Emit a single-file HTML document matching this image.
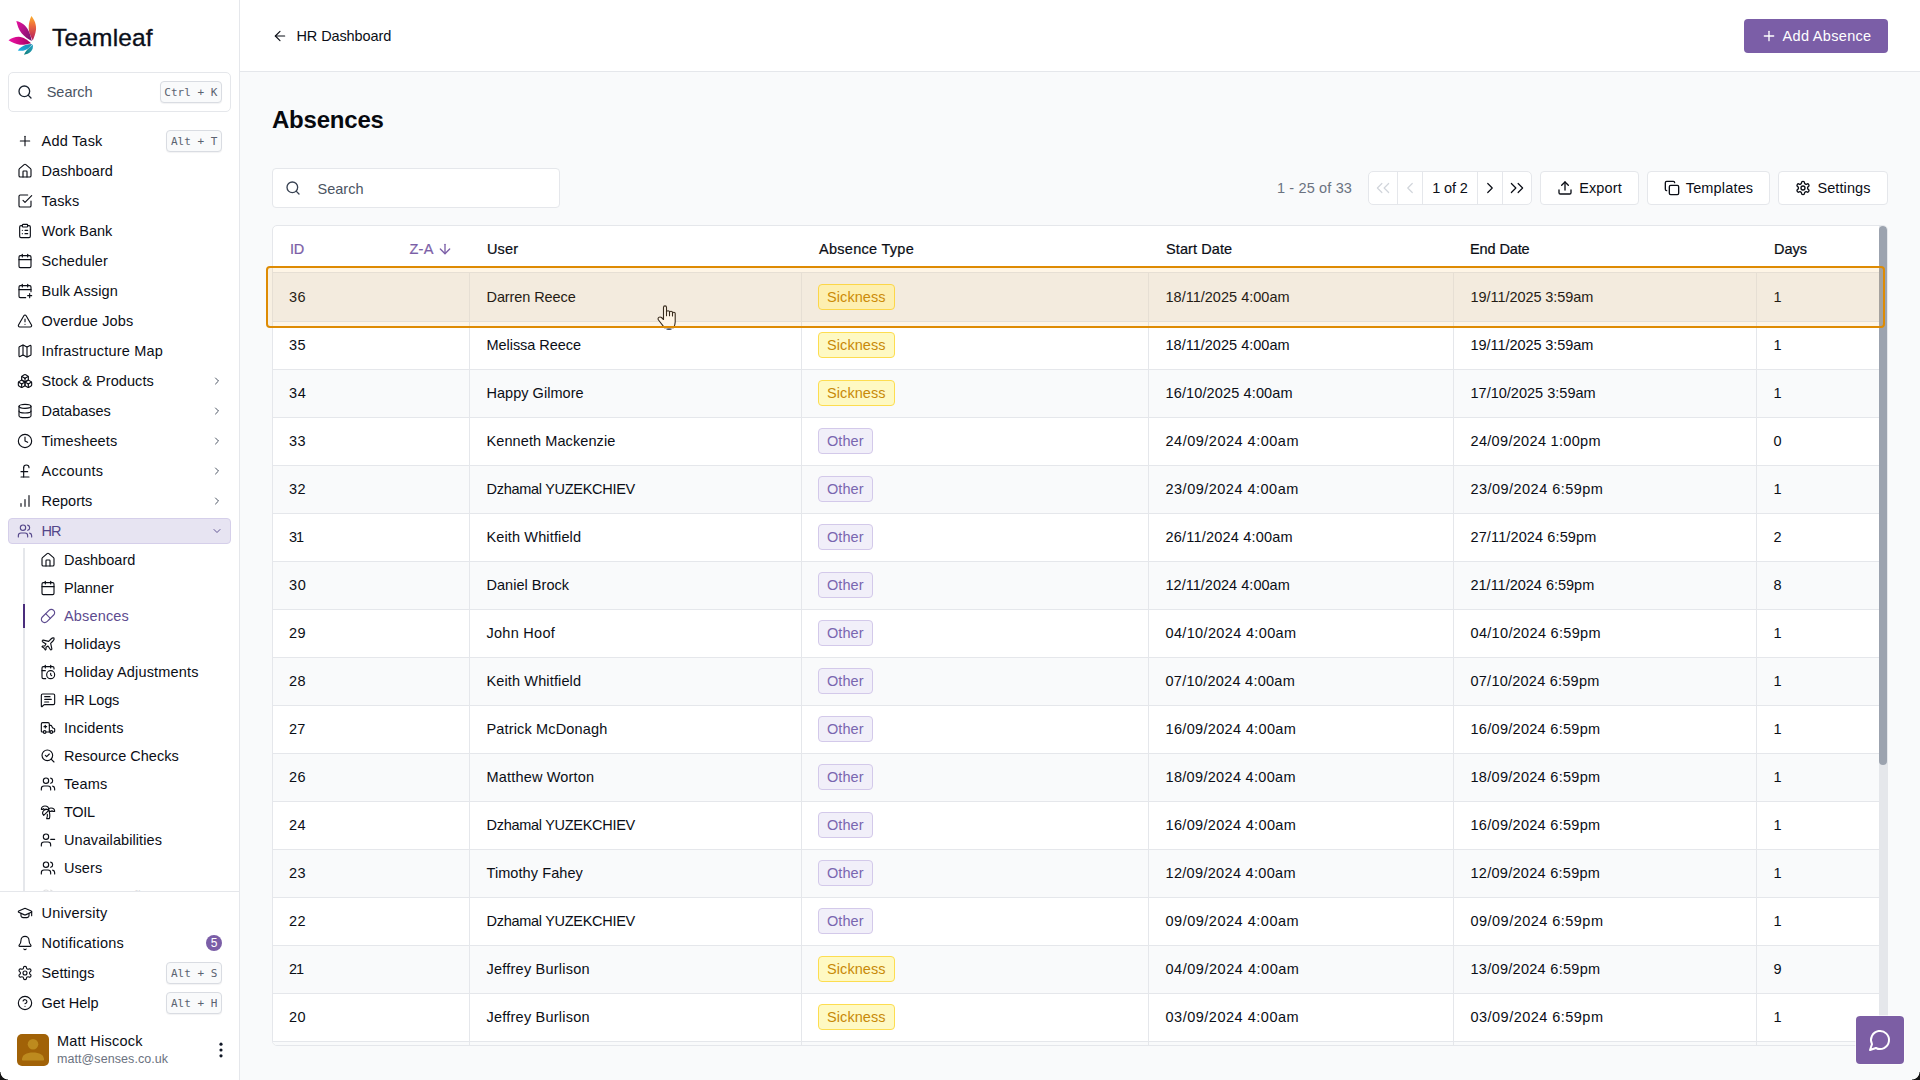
<!DOCTYPE html>
<html lang="en">
<head>
<meta charset="utf-8">
<title>Absences - Teamleaf</title>
<style>
*{box-sizing:border-box;margin:0;padding:0}
html,body{width:1920px;height:1080px;overflow:hidden;background:#f9fafb}
body{font-family:"Liberation Sans",sans-serif;font-size:14.5px;color:#0b0e16;position:relative}
a{color:inherit;text-decoration:none;cursor:pointer}
button{font:inherit;border:0;background:none;cursor:pointer}
.ic{flex:none;display:block}
kbd{font-family:"DejaVu Sans Mono","Liberation Mono",monospace;font-size:11px;color:#5b6370;background:#f9fafb;border:1px solid #d9dce2;border-radius:4px;height:22px;line-height:20px;padding:1.300px 3.700px 0;margin-left:auto;letter-spacing:0;box-shadow:0 1px 1px rgba(17,24,39,.05)}

/* sidebar */
.sidebar{position:absolute;left:0;top:0;width:240px;height:1080px;background:#fff;border-right:1px solid #e5e7eb}
.brand{position:absolute;left:0;top:0;width:239px;height:71px}
.logo{position:absolute;left:0;top:0}
.brand-name{position:absolute;left:52px;top:22px;font-size:24.5px;line-height:32px;color:#0b0f1a;-webkit-text-stroke:.35px #0b0f1a}
.side-search{position:absolute;left:8px;top:72px;width:223px;height:40px;border:1px solid #e5e7eb;border-radius:5px;background:#fff;display:flex;align-items:center;padding:0 8px 0 7.700px;color:#1b2330}
.side-search .ph{margin-left:14px;color:#4b5563}
.nav{position:absolute;left:8px;top:128px;width:223px}
.item{display:flex;align-items:center;height:26px;margin-bottom:4px;padding:0 8px 0 8px;border:1px solid transparent;border-radius:4px;color:#0b0e16}
.item .lbl{margin-left:8.500px}
.item .chev{margin-left:auto;color:#374151;margin-right:-.5px}
.item.open{background:#e7e4f2;border-color:#d5cfea;color:#54468a;margin-bottom:2px}
.item.open .chev{color:#54468a}
.sub{position:relative;padding-left:32px;height:346px;overflow:hidden}
.sub:before{content:"";position:absolute;left:15px;top:2px;width:2px;height:400px;background:#e5e7eb}
.subitem{display:flex;align-items:center;height:28px;color:#0b0e16;position:relative}
.subitem .lbl{margin-left:8px}
.subitem.active{color:#5d4b8f}
.subitem.active:before{content:"";position:absolute;left:-17px;top:2px;width:2px;height:24px;background:#4a2d7c}
.subitem.faded{opacity:.12}
.side-bottom{position:absolute;left:0;top:891px;width:239px;height:189px;border-top:1px solid #e5e7eb;background:#fff;padding:8px 8px 0 8px}
.side-bottom .item{margin-bottom:4px}
.badge{margin-left:auto;width:16px;height:16px;border-radius:50%;background:#7b5ea7;color:#fff;font-size:12px;line-height:16px;text-align:center}
.user{position:absolute;left:0;top:142px;width:239px;height:34px}
.avatar{position:absolute;left:17px;top:0;width:32px;height:32px;border-radius:5px;background:#a16207;overflow:hidden}
.who{position:absolute;left:57px;top:0}
.nm{position:absolute;left:0;top:-1px;white-space:nowrap;font-size:14.5px;line-height:16px;color:#0b0e16}
.em{position:absolute;left:0;top:16.5px;white-space:nowrap;font-size:12.5px;line-height:16px;color:#6b7280}
.kebab{position:absolute;left:211px;top:6px}

/* main */
.main{position:absolute;left:240px;top:0;width:1680px;height:1080px}
.topbar{position:absolute;left:0;top:0;width:1680px;height:72px;background:#fff;border-bottom:1px solid #e5e7eb}
.back{position:absolute;left:32px;top:26px;height:20px;display:flex;align-items:center;color:#0b0e16}
.back span{margin-left:8.500px}
.btn-primary{position:absolute;left:1504px;top:19px;width:144px;height:34px;border-radius:4px;background:#7b5ea7;color:#fff;display:flex;align-items:center;justify-content:center}
.btn-primary span{margin-left:6px}
.title{position:absolute;left:32px;top:104px;font-size:24px;line-height:32px;font-weight:700;color:#07090f;}
.toolbar{position:absolute;left:0;top:168px;width:1680px;height:40px}
.tsearch{position:absolute;left:32px;top:0;width:288px;height:40px;background:#fff;border:1px solid #e5e7eb;border-radius:4px;display:flex;align-items:center;padding-left:12px;color:#374151}
.tsearch .ph{margin-left:16.500px;color:#4b5563;position:relative;top:1px}
.count{position:absolute;left:1037px;top:11px;line-height:18px;color:#6b7280}
.pager{position:absolute;left:1128px;top:3px;width:164px;height:34px;border:1px solid #e5e7eb;border-radius:5px;background:#fff;display:flex;overflow:hidden}
.pg{display:flex;align-items:center;justify-content:center;border-right:1px solid #e5e7eb;height:100%;color:#0b0e16}
.pg:last-child{border-right:0}
.pg.dis{color:#d1d5db}
.p1{width:29px}.p2{width:25px}.p3{width:55px}.p4{width:25px}.p5{flex:1}
.btn{position:absolute;top:3px;height:34px;border:1px solid #e5e7eb;border-radius:4px;background:#fff;display:flex;align-items:center;justify-content:center;color:#0b0e16}
.btn span{margin-left:6px}
.b-export{left:1300px;width:99px}
.b-templates{left:1407px;width:123px}
.b-settings{left:1538px;width:110px}

.tablewrap{position:absolute;left:32px;top:225px;width:1616px;height:821px;background:#fff;border:1px solid #e5e7eb;border-radius:5px;overflow:hidden}
.thead{position:absolute;left:0;top:0;width:1606px;height:47px;border-bottom:1px solid #e5e7eb;font-weight:400}
.th{position:absolute;top:14px;line-height:18px;color:#0b0e16;-webkit-text-stroke:.22px #0b0e16}
.th.sort{color:#7b5ea7;-webkit-text-stroke:.22px #7b5ea7}
.za{position:absolute;left:136.500px;top:14px;line-height:18px;color:#7b5ea7;display:flex;align-items:center;-webkit-text-stroke:.22px #7b5ea7}
.za .ic{margin-left:3.500px}
.c1{left:16px}
.th.c1{left:17px}.c2{left:214px}.c3{left:546px}.c4{left:893px}.c5{left:1197px}.c6{left:1501px}
.tbody{position:absolute;left:0;top:48px;width:1606px}
.tr{position:relative;height:48px;border-bottom:1px solid #e5e7eb;background:#fff}
.tr.alt{background:#f9fafb}
.tr.hover{background:#f3f4f6;height:49px;margin-top:-1px}
.tr.hover .td{height:48px;line-height:48px}
.td{position:absolute;top:0;height:47px;line-height:47px;white-space:nowrap}
.td.c2,.td.c3,.td.c4,.td.c5,.td.c6{border-left:1px solid #e5e7eb;padding-left:16.500px}
.td.c3{padding-left:16px}
.td.c2{left:196px;width:332px}
.td.c3{left:528px;width:347px}
.td.c4{left:875px;width:305px}
.td.c5{left:1180px;width:303px}
.td.c6{left:1483px;width:123px}
.tag{display:inline-block;height:26px;line-height:24px;padding:0 8px;border-radius:4px;border:1px solid;vertical-align:middle;position:relative;top:-1px}
.tag.sick{background:#fef9c3;border-color:#fddd50;color:#c88908}
.tag.other{background:#f1eff9;border-color:#d3c9ea;color:#7a66b0}
.sbar{position:absolute;left:1606px;top:0;width:8px;height:819px;background:#e5e7eb}
.thumb{position:absolute;left:0;top:0;width:8px;height:539px;border-radius:4px;background:#9ca3af}
.focusring{position:absolute;left:26px;top:266px;width:1619px;height:62px;border:2px solid #de8b03;border-radius:4px;background:rgba(245,158,11,.1)}
.cursor{position:absolute;left:415px;top:303px}
.chatfab{position:absolute;left:1616px;top:1016px;width:48px;height:48px;border-radius:4px;background:#7c5ea4;box-shadow:0 0 0 1px rgba(255,255,255,.6);color:#fff;display:flex;align-items:center;justify-content:center}
.corner{position:absolute;bottom:0;width:8px;height:8px}
.corner.cl{left:0;background:radial-gradient(circle at 8px 0,rgba(255,255,255,0) 6.300px,rgba(255,255,255,.9) 7px,#141414 7.900px)}
.corner.cr{right:0;background:radial-gradient(circle at 0 0,rgba(255,255,255,0) 6.300px,rgba(255,255,255,.9) 7px,#141414 7.900px)}

</style>
</head>
<body>
<aside class="sidebar">
<div class="brand"><svg class="logo" width="48" height="56" viewBox="0 0 48 56"><defs><linearGradient id="lgO" x1="0" y1="0" x2="0" y2="1"><stop offset="0" stop-color="#fbb02d"/><stop offset=".35" stop-color="#f0713a"/><stop offset="1" stop-color="#b3175f"/></linearGradient><linearGradient id="lgM1" x1="0" y1="0" x2="1" y2="1"><stop offset="0" stop-color="#e8109f"/><stop offset="1" stop-color="#6f1468"/></linearGradient><linearGradient id="lgM2" x1="0" y1="0" x2="1" y2="0"><stop offset="0" stop-color="#f012a6"/><stop offset="1" stop-color="#a4005f"/></linearGradient><linearGradient id="lgT1" x1="0" y1="1" x2="1" y2="0"><stop offset="0" stop-color="#1fb3e6"/><stop offset="1" stop-color="#1b86ad"/></linearGradient><linearGradient id="lgT2" x1="0" y1="1" x2="1" y2="0"><stop offset="0" stop-color="#0f7d78"/><stop offset="1" stop-color="#2aa6c9"/></linearGradient></defs><path d="M31.400 16c3.200 4 5.200 9 4.600 13.800-.5 4-2 7.600-3.200 10.800-1.600-3.400-3.900-7.300-4.100-11.800-.2-4.800 1-9.200 2.700-12.800z" fill="url(#lgO)"/><path d="M16.300 21c5.400 1.200 9.700 4.600 12 9.200 1.700 3.400 2.800 7.200 3.500 10.900-3.600-2-7.500-4.400-10.200-7.800-3.100-3.900-4.200-8.300-5.300-12.300z" fill="url(#lgM1)"/><path d="M8.500 40.300c3-2.400 6.800-3.700 10.300-3.600 4.800.2 8.800 3.300 12.300 6.500-3.500 1-7.400 1.800-11.200 1.500-4.300-.4-8-2.300-11.400-4.400z" fill="url(#lgM2)"/><path d="M17.800 50.600c2-3 5-5 8.200-5.900 2.100-.6 4.200-.8 6.200-.8-1.700 2.500-3.900 4.900-6.800 6.100-2.400 1-5.100 1-7.600.6z" fill="url(#lgT1)"/><path d="M23.900 54.800c1.500-3.500 4.300-6.800 8.900-10.400.5 2.800-.1 5.200-1.900 7.100-1.800 1.900-4.300 2.800-7 3.300z" fill="url(#lgT2)"/></svg><span class="brand-name" style="letter-spacing:0.18px">Teamleaf</span></div>
<div class="side-search"><svg class="ic " width="16" height="16" viewBox="0 0 24 24" fill="none" stroke="currentColor" stroke-width="2" stroke-linecap="round" stroke-linejoin="round" style=""><circle cx="11" cy="11" r="8"/><path d="m21 21-4.3-4.3"/></svg><span class="ph" style="letter-spacing:0.01px">Search</span><kbd>Ctrl + K</kbd></div>
<nav class="nav">
<a class="item"><svg class="ic " width="16" height="16" viewBox="0 0 24 24" fill="none" stroke="currentColor" stroke-width="1.7" stroke-linecap="round" stroke-linejoin="round" style=""><path d="M5 12h14"/><path d="M12 5v14"/></svg><span class="lbl" style="letter-spacing:0.21px">Add Task</span><kbd>Alt + T</kbd></a>
<a class="item"><svg class="ic " width="16" height="16" viewBox="0 0 24 24" fill="none" stroke="currentColor" stroke-width="1.7" stroke-linecap="round" stroke-linejoin="round" style=""><path d="M15 21v-8a1 1 0 0 0-1-1h-4a1 1 0 0 0-1 1v8"/><path d="M3 10a2 2 0 0 1 .709-1.528l7-5.999a2 2 0 0 1 2.582 0l7 5.999A2 2 0 0 1 21 10v9a2 2 0 0 1-2 2H5a2 2 0 0 1-2-2z"/></svg><span class="lbl" style="letter-spacing:0.06px">Dashboard</span></a>
<a class="item"><svg class="ic " width="16" height="16" viewBox="0 0 24 24" fill="none" stroke="currentColor" stroke-width="1.7" stroke-linecap="round" stroke-linejoin="round" style=""><path d="m9 11 3 3L22 4"/><path d="M21 12v7a2 2 0 0 1-2 2H5a2 2 0 0 1-2-2V5a2 2 0 0 1 2-2h11"/></svg><span class="lbl" style="letter-spacing:0.17px">Tasks</span></a>
<a class="item"><svg class="ic " width="16" height="16" viewBox="0 0 24 24" fill="none" stroke="currentColor" stroke-width="1.7" stroke-linecap="round" stroke-linejoin="round" style=""><rect width="8" height="4" x="8" y="2" rx="1" ry="1"/><path d="M16 4h2a2 2 0 0 1 2 2v14a2 2 0 0 1-2 2H6a2 2 0 0 1-2-2V6a2 2 0 0 1 2-2h2"/><path d="M12 11h4"/><path d="M12 16h4"/><path d="M8 11h.01"/><path d="M8 16h.01"/></svg><span class="lbl" style="letter-spacing:0.02px">Work Bank</span></a>
<a class="item"><svg class="ic " width="16" height="16" viewBox="0 0 24 24" fill="none" stroke="currentColor" stroke-width="1.7" stroke-linecap="round" stroke-linejoin="round" style=""><path d="M8 2v4"/><path d="M16 2v4"/><rect width="18" height="18" x="3" y="4" rx="2"/><path d="M3 10h18"/></svg><span class="lbl" style="letter-spacing:0.12px">Scheduler</span></a>
<a class="item"><svg class="ic " width="16" height="16" viewBox="0 0 24 24" fill="none" stroke="currentColor" stroke-width="1.7" stroke-linecap="round" stroke-linejoin="round" style=""><path d="M8 2v4"/><path d="M16 2v4"/><path d="M21 13V6a2 2 0 0 0-2-2H5a2 2 0 0 0-2 2v14a2 2 0 0 0 2 2h8"/><path d="M3 10h18"/><path d="M16 19h6"/><path d="M19 16v6"/></svg><span class="lbl" style="letter-spacing:0.13px">Bulk Assign</span></a>
<a class="item"><svg class="ic " width="16" height="16" viewBox="0 0 24 24" fill="none" stroke="currentColor" stroke-width="1.7" stroke-linecap="round" stroke-linejoin="round" style=""><path d="m21.73 18-8-14a2 2 0 0 0-3.48 0l-8 14A2 2 0 0 0 4 21h16a2 2 0 0 0 1.73-3"/><path d="M12 9v4"/><path d="M12 17h.01"/></svg><span class="lbl" style="letter-spacing:0.13px">Overdue Jobs</span></a>
<a class="item"><svg class="ic " width="16" height="16" viewBox="0 0 24 24" fill="none" stroke="currentColor" stroke-width="1.7" stroke-linecap="round" stroke-linejoin="round" style=""><path d="M14.106 5.553a2 2 0 0 0 1.788 0l3.659-1.83A1 1 0 0 1 21 4.619v12.764a1 1 0 0 1-.553.894l-4.553 2.277a2 2 0 0 1-1.788 0l-4.212-2.106a2 2 0 0 0-1.788 0l-3.659 1.83A1 1 0 0 1 3 19.381V6.618a1 1 0 0 1 .553-.894l4.553-2.277a2 2 0 0 1 1.788 0z"/><path d="M15 5.764v15"/><path d="M9 3.236v15"/></svg><span class="lbl" style="letter-spacing:0.22px">Infrastructure Map</span></a>
<a class="item"><svg class="ic " width="16" height="16" viewBox="0 0 24 24" fill="none" stroke="currentColor" stroke-width="1.7" stroke-linecap="round" stroke-linejoin="round" style=""><path d="M2.97 12.92A2 2 0 0 0 2 14.63v3.24a2 2 0 0 0 .97 1.71l3 1.8a2 2 0 0 0 2.06 0L12 19v-5.5l-5-3-4.03 2.42Z"/><path d="m7 16.5-4.74-2.85"/><path d="m7 16.5 5-3"/><path d="M7 16.5v5.17"/><path d="M12 13.5V19l3.97 2.38a2 2 0 0 0 2.06 0l3-1.8a2 2 0 0 0 .97-1.71v-3.24a2 2 0 0 0-.97-1.71L17 10.5l-5 3Z"/><path d="m17 16.5-5-3"/><path d="m17 16.5 4.74-2.85"/><path d="M17 16.5v5.17"/><path d="M7.97 4.42A2 2 0 0 0 7 6.13v4.37l5 3 5-3V6.13a2 2 0 0 0-.97-1.71l-3-1.8a2 2 0 0 0-2.06 0l-3 1.8Z"/><path d="M12 8 7.26 5.15"/><path d="m12 8 4.74-2.85"/><path d="M12 13.5V8"/></svg><span class="lbl" style="letter-spacing:0.07px">Stock &amp; Products</span><svg class="ic chev" width="12" height="12" viewBox="0 0 24 24" fill="none" stroke="currentColor" stroke-width="1.8" stroke-linecap="round" stroke-linejoin="round" style=""><path d="m9 18 6-6-6-6"/></svg></a>
<a class="item"><svg class="ic " width="16" height="16" viewBox="0 0 24 24" fill="none" stroke="currentColor" stroke-width="1.7" stroke-linecap="round" stroke-linejoin="round" style=""><ellipse cx="12" cy="5" rx="9" ry="3"/><path d="M3 5V19A9 3 0 0 0 21 19V5"/><path d="M3 12A9 3 0 0 0 21 12"/></svg><span class="lbl" style="letter-spacing:-0.00px">Databases</span><svg class="ic chev" width="12" height="12" viewBox="0 0 24 24" fill="none" stroke="currentColor" stroke-width="1.8" stroke-linecap="round" stroke-linejoin="round" style=""><path d="m9 18 6-6-6-6"/></svg></a>
<a class="item"><svg class="ic " width="16" height="16" viewBox="0 0 24 24" fill="none" stroke="currentColor" stroke-width="1.7" stroke-linecap="round" stroke-linejoin="round" style=""><circle cx="12" cy="12" r="10"/><polyline points="12 6 12 12 16 14"/></svg><span class="lbl" style="letter-spacing:0.15px">Timesheets</span><svg class="ic chev" width="12" height="12" viewBox="0 0 24 24" fill="none" stroke="currentColor" stroke-width="1.8" stroke-linecap="round" stroke-linejoin="round" style=""><path d="m9 18 6-6-6-6"/></svg></a>
<a class="item"><svg class="ic " width="16" height="16" viewBox="0 0 24 24" fill="none" stroke="currentColor" stroke-width="1.7" stroke-linecap="round" stroke-linejoin="round" style=""><path d="M18 7c0-5.333-8-5.333-8 0"/><path d="M10 7v14"/><path d="M6 21h12"/><path d="M6 13h10"/></svg><span class="lbl" style="letter-spacing:0.27px">Accounts</span><svg class="ic chev" width="12" height="12" viewBox="0 0 24 24" fill="none" stroke="currentColor" stroke-width="1.8" stroke-linecap="round" stroke-linejoin="round" style=""><path d="m9 18 6-6-6-6"/></svg></a>
<a class="item"><svg class="ic " width="16" height="16" viewBox="0 0 24 24" fill="none" stroke="currentColor" stroke-width="1.7" stroke-linecap="round" stroke-linejoin="round" style=""><path d="M12 20V10"/><path d="M18 20V4"/><path d="M6 20v-4"/></svg><span class="lbl" style="letter-spacing:-0.00px">Reports</span><svg class="ic chev" width="12" height="12" viewBox="0 0 24 24" fill="none" stroke="currentColor" stroke-width="1.8" stroke-linecap="round" stroke-linejoin="round" style=""><path d="m9 18 6-6-6-6"/></svg></a>
<a class="item open"><svg class="ic " width="16" height="16" viewBox="0 0 24 24" fill="none" stroke="currentColor" stroke-width="1.7" stroke-linecap="round" stroke-linejoin="round" style=""><path d="M16 21v-2a4 4 0 0 0-4-4H6a4 4 0 0 0-4 4v2"/><circle cx="9" cy="7" r="4"/><path d="M22 21v-2a4 4 0 0 0-3-3.87"/><path d="M16 3.13a4 4 0 0 1 0 7.75"/></svg><span class="lbl" style="letter-spacing:-0.86px">HR</span><svg class="ic chev" width="12" height="12" viewBox="0 0 24 24" fill="none" stroke="currentColor" stroke-width="1.8" stroke-linecap="round" stroke-linejoin="round" style=""><path d="m6 9 6 6 6-6"/></svg></a>
<div class="sub">
<a class="subitem"><svg class="ic " width="16" height="16" viewBox="0 0 24 24" fill="none" stroke="currentColor" stroke-width="1.7" stroke-linecap="round" stroke-linejoin="round" style=""><path d="M15 21v-8a1 1 0 0 0-1-1h-4a1 1 0 0 0-1 1v8"/><path d="M3 10a2 2 0 0 1 .709-1.528l7-5.999a2 2 0 0 1 2.582 0l7 5.999A2 2 0 0 1 21 10v9a2 2 0 0 1-2 2H5a2 2 0 0 1-2-2z"/></svg><span class="lbl" style="letter-spacing:0.06px">Dashboard</span></a>
<a class="subitem"><svg class="ic " width="16" height="16" viewBox="0 0 24 24" fill="none" stroke="currentColor" stroke-width="1.7" stroke-linecap="round" stroke-linejoin="round" style=""><path d="M8 2v4"/><path d="M16 2v4"/><rect width="18" height="18" x="3" y="4" rx="2"/><path d="M3 10h18"/></svg><span class="lbl" style="letter-spacing:-0.04px">Planner</span></a>
<a class="subitem active"><svg class="ic " width="16" height="16" viewBox="0 0 24 24" fill="none" stroke="currentColor" stroke-width="1.7" stroke-linecap="round" stroke-linejoin="round" style=""><path d="m10.5 20.5 10-10a4.95 4.95 0 1 0-7-7l-10 10a4.95 4.95 0 1 0 7 7Z"/><path d="m8.5 8.5 7 7"/></svg><span class="lbl" style="letter-spacing:0.16px">Absences</span></a>
<a class="subitem"><svg class="ic " width="16" height="16" viewBox="0 0 24 24" fill="none" stroke="currentColor" stroke-width="1.7" stroke-linecap="round" stroke-linejoin="round" style=""><path d="M17.8 19.2 16 11l3.5-3.5C21 6 21.5 4 21 3c-1-.5-3 0-4.5 1.5L13 8 4.8 6.2c-.5-.1-.9.1-1.1.5l-.3.5c-.2.5-.1 1 .3 1.3L9 12l-2 3H4l-1 1 3 2 2 3 1-1v-3l3-2 3.5 5.300c.3.400.8.500 1.300.300l.5-.2c.4-.3.6-.7.5-1.200z"/></svg><span class="lbl" style="letter-spacing:0.11px">Holidays</span></a>
<a class="subitem"><svg class="ic " width="16" height="16" viewBox="0 0 24 24" fill="none" stroke="currentColor" stroke-width="1.7" stroke-linecap="round" stroke-linejoin="round" style=""><path d="M21 7.5V6a2 2 0 0 0-2-2H5a2 2 0 0 0-2 2v14a2 2 0 0 0 2 2h3.500"/><path d="M16 2v4"/><path d="M8 2v4"/><path d="M3 10h5"/><path d="M17.500 17.500 16 16.300V14"/><circle cx="16" cy="16" r="6"/></svg><span class="lbl" style="letter-spacing:0.17px">Holiday Adjustments</span></a>
<a class="subitem"><svg class="ic " width="16" height="16" viewBox="0 0 24 24" fill="none" stroke="currentColor" stroke-width="1.7" stroke-linecap="round" stroke-linejoin="round" style=""><path d="M22 17a2 2 0 0 1-2 2H6.828a2 2 0 0 0-1.414.586l-2.202 2.202A.71.71 0 0 1 2 21.286V5a2 2 0 0 1 2-2h16a2 2 0 0 1 2 2z"/><path d="M7 11h10"/><path d="M7 15h6"/><path d="M7 7h8"/></svg><span class="lbl" style="letter-spacing:-0.19px">HR Logs</span></a>
<a class="subitem"><svg class="ic " width="16" height="16" viewBox="0 0 24 24" fill="none" stroke="currentColor" stroke-width="1.7" stroke-linecap="round" stroke-linejoin="round" style=""><path d="M10 10H6"/><path d="M14 18V6a2 2 0 0 0-2-2H4a2 2 0 0 0-2 2v11a1 1 0 0 0 1 1h2"/><path d="M19 18h2a1 1 0 0 0 1-1v-3.280a1 1 0 0 0-.684-.948l-1.923-.641a1 1 0 0 1-.578-.502l-1.539-3.076A1 1 0 0 0 16.382 8H14"/><path d="M8 8v4"/><path d="M9 18h6"/><circle cx="17" cy="18" r="2"/><circle cx="7" cy="18" r="2"/></svg><span class="lbl" style="letter-spacing:0.18px">Incidents</span></a>
<a class="subitem"><svg class="ic " width="16" height="16" viewBox="0 0 24 24" fill="none" stroke="currentColor" stroke-width="1.7" stroke-linecap="round" stroke-linejoin="round" style=""><path d="m8 11 2 2 4-4"/><circle cx="11" cy="11" r="8"/><path d="m21 21-4.300-4.300"/></svg><span class="lbl" style="letter-spacing:0.02px">Resource Checks</span></a>
<a class="subitem"><svg class="ic " width="16" height="16" viewBox="0 0 24 24" fill="none" stroke="currentColor" stroke-width="1.7" stroke-linecap="round" stroke-linejoin="round" style=""><path d="M16 21v-2a4 4 0 0 0-4-4H6a4 4 0 0 0-4 4v2"/><circle cx="9" cy="7" r="4"/><path d="M22 21v-2a4 4 0 0 0-3-3.87"/><path d="M16 3.13a4 4 0 0 1 0 7.75"/></svg><span class="lbl" style="letter-spacing:0.12px">Teams</span></a>
<a class="subitem"><svg class="ic " width="16" height="16" viewBox="0 0 24 24" fill="none" stroke="currentColor" stroke-width="1.7" stroke-linecap="round" stroke-linejoin="round" style=""><path d="M13 8c0-2.760-2.460-5-5.500-5S2 5.240 2 8h2l1-1 1 1h4"/><path d="M13 7.140A5.820 5.820 0 0 1 16.500 6c3.040 0 5.500 2.240 5.500 5h-3l-1-1-1 1h-3"/><path d="M5.890 9.710c-2.150 2.150-2.300 5.470-.35 7.430l4.240-4.250.7-.7.710-.71 2.120-2.120c-1.950-1.960-5.270-1.800-7.420.35"/><path d="M11 15.500c.5 2.500-.17 4.500-1 6.500h4c2-5.500-.5-12-1-14"/></svg><span class="lbl" style="letter-spacing:-0.32px">TOIL</span></a>
<a class="subitem"><svg class="ic " width="16" height="16" viewBox="0 0 24 24" fill="none" stroke="currentColor" stroke-width="1.7" stroke-linecap="round" stroke-linejoin="round" style=""><path d="M16 21v-2a4 4 0 0 0-4-4H6a4 4 0 0 0-4 4v2"/><circle cx="9" cy="7" r="4"/><line x1="22" x2="16" y1="11" y2="11"/></svg><span class="lbl" style="letter-spacing:0.08px">Unavailabilities</span></a>
<a class="subitem"><svg class="ic " width="16" height="16" viewBox="0 0 24 24" fill="none" stroke="currentColor" stroke-width="1.7" stroke-linecap="round" stroke-linejoin="round" style=""><path d="M16 21v-2a4 4 0 0 0-4-4H6a4 4 0 0 0-4 4v2"/><circle cx="9" cy="7" r="4"/><path d="M22 21v-2a4 4 0 0 0-3-3.87"/><path d="M16 3.13a4 4 0 0 1 0 7.75"/></svg><span class="lbl" style="letter-spacing:0.07px">Users</span></a>
<a class="subitem faded"><svg class="ic " width="16" height="16" viewBox="0 0 24 24" fill="none" stroke="currentColor" stroke-width="1.7" stroke-linecap="round" stroke-linejoin="round" style=""><path d="M16 21v-2a4 4 0 0 0-4-4H6a4 4 0 0 0-4 4v2"/><circle cx="9" cy="7" r="4"/><path d="M22 21v-2a4 4 0 0 0-3-3.87"/><path d="M16 3.13a4 4 0 0 1 0 7.75"/></svg><span class="lbl" style="letter-spacing:0.11px">User Benefits</span></a>
</div>
</nav>
<div class="side-bottom">
<a class="item"><svg class="ic " width="16" height="16" viewBox="0 0 24 24" fill="none" stroke="currentColor" stroke-width="1.7" stroke-linecap="round" stroke-linejoin="round" style=""><path d="M21.420 10.922a1 1 0 0 0-.019-1.838L12.830 5.180a2 2 0 0 0-1.660 0L2.600 9.080a1 1 0 0 0 0 1.832l8.570 3.908a2 2 0 0 0 1.660 0z"/><path d="M22 10v6"/><path d="M6 12.500V16a6 3 0 0 0 12 0v-3.500"/></svg><span class="lbl" style="letter-spacing:0.23px">University</span></a>
<a class="item"><svg class="ic " width="16" height="16" viewBox="0 0 24 24" fill="none" stroke="currentColor" stroke-width="1.7" stroke-linecap="round" stroke-linejoin="round" style=""><path d="M10.268 21a2 2 0 0 0 3.464 0"/><path d="M3.262 15.326A1 1 0 0 0 4 17h16a1 1 0 0 0 .74-1.673C19.410 13.956 18 12.499 18 8A6 6 0 0 0 6 8c0 4.499-1.411 5.956-2.738 7.326"/></svg><span class="lbl" style="letter-spacing:0.28px">Notifications</span><span class="badge">5</span></a>
<a class="item"><svg class="ic " width="16" height="16" viewBox="0 0 24 24" fill="none" stroke="currentColor" stroke-width="1.7" stroke-linecap="round" stroke-linejoin="round" style=""><path d="M12.220 2h-.44a2 2 0 0 0-2 2v.180a2 2 0 0 1-1 1.730l-.43.250a2 2 0 0 1-2 0l-.15-.08a2 2 0 0 0-2.730.730l-.22.380a2 2 0 0 0 .73 2.730l.15.100a2 2 0 0 1 1 1.720v.510a2 2 0 0 1-1 1.740l-.15.090a2 2 0 0 0-.73 2.730l.22.380a2 2 0 0 0 2.730.730l.15-.08a2 2 0 0 1 2 0l.43.250a2 2 0 0 1 1 1.730V20a2 2 0 0 0 2 2h.44a2 2 0 0 0 2-2v-.180a2 2 0 0 1 1-1.730l.43-.250a2 2 0 0 1 2 0l.15.080a2 2 0 0 0 2.730-.730l.22-.390a2 2 0 0 0-.73-2.730l-.15-.080a2 2 0 0 1-1-1.740v-.500a2 2 0 0 1 1-1.740l.15-.090a2 2 0 0 0 .73-2.730l-.22-.380a2 2 0 0 0-2.730-.730l-.15.080a2 2 0 0 1-2 0l-.43-.250a2 2 0 0 1-1-1.730V4a2 2 0 0 0-2-2z"/><circle cx="12" cy="12" r="3"/></svg><span class="lbl" style="letter-spacing:0.08px">Settings</span><kbd>Alt + S</kbd></a>
<a class="item"><svg class="ic " width="16" height="16" viewBox="0 0 24 24" fill="none" stroke="currentColor" stroke-width="1.7" stroke-linecap="round" stroke-linejoin="round" style=""><circle cx="12" cy="12" r="10"/><path d="M9.090 9a3 3 0 0 1 5.830 1c0 2-3 3-3 3"/><path d="M12 17h.01"/></svg><span class="lbl" style="letter-spacing:-0.02px">Get Help</span><kbd>Alt + H</kbd></a>
<div class="user"><span class="avatar"><svg width="32" height="32" viewBox="0 0 32 32"><circle cx="16" cy="10.300" r="5.300" fill="#bd8a1e"/><path d="M5 25.600c0-4.600 4.600-7.100 11-7.100s11 2.500 11 7.100c0 .6-.4 1-1 1H6c-.6 0-1-.4-1-1z" fill="#bd8a1e"/></svg></span><span class="who"><span class="nm" style="letter-spacing:0.22px">Matt Hiscock</span><span class="em" style="letter-spacing:0.07px">matt@senses.co.uk</span></span><svg class="kebab" width="20" height="20" viewBox="0 0 24 24" fill="#111827"><circle cx="12" cy="5" r="1.900"/><circle cx="12" cy="12" r="1.900"/><circle cx="12" cy="19" r="1.900"/></svg></div>
</div>
</aside>
<main class="main">
<header class="topbar"><a class="back"><svg class="ic " width="16" height="16" viewBox="0 0 24 24" fill="none" stroke="currentColor" stroke-width="1.7" stroke-linecap="round" stroke-linejoin="round" style=""><path d="m12 19-7-7 7-7"/><path d="M19 12H5"/></svg><span style="letter-spacing:-0.11px">HR Dashboard</span></a><button class="btn-primary"><svg class="ic " width="16" height="16" viewBox="0 0 24 24" fill="none" stroke="currentColor" stroke-width="2" stroke-linecap="round" stroke-linejoin="round" style=""><path d="M5 12h14"/><path d="M12 5v14"/></svg><span style="letter-spacing:0.32px">Add Absence</span></button></header>
<h1 class="title"><span style="letter-spacing:-0.21px">Absences</span></h1>
<div class="toolbar">
<div class="tsearch"><svg class="ic " width="16" height="16" viewBox="0 0 24 24" fill="none" stroke="currentColor" stroke-width="2" stroke-linecap="round" stroke-linejoin="round" style=""><circle cx="11" cy="11" r="8"/><path d="m21 21-4.3-4.3"/></svg><span class="ph" style="letter-spacing:0.01px">Search</span></div>
<span class="count" style="letter-spacing:0.14px">1 - 25 of 33</span>
<div class="pager"><span class="pg dis p1"><svg class="ic " width="18" height="18" viewBox="0 0 24 24" fill="none" stroke="currentColor" stroke-width="1.6" stroke-linecap="round" stroke-linejoin="round" style=""><path d="m10.500 18-6-6 6-6"/><path d="m19.500 18-6-6 6-6"/></svg></span><span class="pg dis p2"><svg class="ic " width="18" height="18" viewBox="0 0 24 24" fill="none" stroke="currentColor" stroke-width="1.6" stroke-linecap="round" stroke-linejoin="round" style=""><path d="m15 18-6-6 6-6"/></svg></span><span class="pg p3"><span style="letter-spacing:-0.16px">1 of 2</span></span><span class="pg p4"><svg class="ic " width="18" height="18" viewBox="0 0 24 24" fill="none" stroke="currentColor" stroke-width="1.6" stroke-linecap="round" stroke-linejoin="round" style=""><path d="m9 18 6-6-6-6"/></svg></span><span class="pg p5"><svg class="ic " width="18" height="18" viewBox="0 0 24 24" fill="none" stroke="currentColor" stroke-width="1.6" stroke-linecap="round" stroke-linejoin="round" style=""><path d="m4.500 18 6-6-6-6"/><path d="m13.500 18 6-6-6-6"/></svg></span></div>
<button class="btn b-export"><svg class="ic " width="16" height="16" viewBox="0 0 24 24" fill="none" stroke="currentColor" stroke-width="2" stroke-linecap="round" stroke-linejoin="round" style=""><path d="M21 15v4a2 2 0 0 1-2 2H5a2 2 0 0 1-2-2v-4"/><polyline points="17 8 12 3 7 8"/><line x1="12" x2="12" y1="3" y2="15"/></svg><span style="letter-spacing:0.12px">Export</span></button>
<button class="btn b-templates"><svg class="ic " width="16" height="16" viewBox="0 0 24 24" fill="none" stroke="currentColor" stroke-width="2" stroke-linecap="round" stroke-linejoin="round" style=""><rect width="14" height="14" x="8" y="8" rx="2" ry="2"/><path d="M4 16c-1.100 0-2-.9-2-2V4c0-1.100.9-2 2-2h10c1.100 0 2 .9 2 2"/></svg><span style="letter-spacing:0.16px">Templates</span></button>
<button class="btn b-settings"><svg class="ic " width="16" height="16" viewBox="0 0 24 24" fill="none" stroke="currentColor" stroke-width="2" stroke-linecap="round" stroke-linejoin="round" style=""><path d="M12.220 2h-.44a2 2 0 0 0-2 2v.180a2 2 0 0 1-1 1.730l-.43.250a2 2 0 0 1-2 0l-.15-.08a2 2 0 0 0-2.730.730l-.22.380a2 2 0 0 0 .73 2.730l.15.100a2 2 0 0 1 1 1.720v.510a2 2 0 0 1-1 1.740l-.15.090a2 2 0 0 0-.73 2.730l.22.380a2 2 0 0 0 2.730.730l.15-.08a2 2 0 0 1 2 0l.43.250a2 2 0 0 1 1 1.730V20a2 2 0 0 0 2 2h.44a2 2 0 0 0 2-2v-.180a2 2 0 0 1 1-1.730l.43-.250a2 2 0 0 1 2 0l.15.080a2 2 0 0 0 2.730-.730l.22-.390a2 2 0 0 0-.73-2.730l-.15-.080a2 2 0 0 1-1-1.740v-.500a2 2 0 0 1 1-1.740l.15-.090a2 2 0 0 0 .73-2.730l-.22-.380a2 2 0 0 0-2.730-.730l-.15.080a2 2 0 0 1-2 0l-.43-.250a2 2 0 0 1-1-1.730V4a2 2 0 0 0-2-2z"/><circle cx="12" cy="12" r="3"/></svg><span style="letter-spacing:0.08px">Settings</span></button>
</div>
<section class="tablewrap">
<div class="thead"><span class="th c1 sort" style="letter-spacing:-0.36px">ID</span><span class="za"><span style="letter-spacing:0.26px">Z-A</span><svg class="ic " width="16" height="16" viewBox="0 0 24 24" fill="none" stroke="currentColor" stroke-width="2" stroke-linecap="round" stroke-linejoin="round" style=""><path d="M12 5v14"/><path d="m19 12-7 7-7-7"/></svg></span><span class="th c2" style="letter-spacing:0.15px">User</span><span class="th c3" style="letter-spacing:0.28px">Absence Type</span><span class="th c4" style="letter-spacing:0.09px">Start Date</span><span class="th c5" style="letter-spacing:-0.11px">End Date</span><span class="th c6" style="letter-spacing:0.01px">Days</span></div>
<div class="tbody">
<div class="tr alt hover"><span class="td c1"><span style="letter-spacing:0.51px">36</span></span><span class="td c2"><span style="letter-spacing:-0.09px">Darren Reece</span></span><span class="td c3"><span class="tag sick"><span style="letter-spacing:0.08px">Sickness</span></span></span><span class="td c4"><span style="letter-spacing:0.01px">18/11/2025 4:00am</span></span><span class="td c5"><span style="letter-spacing:-0.06px">19/11/2025 3:59am</span></span><span class="td c6"><span style="letter-spacing:-2.44px">1</span></span></div>
<div class="tr"><span class="td c1"><span style="letter-spacing:0.43px">35</span></span><span class="td c2"><span style="letter-spacing:-0.05px">Melissa Reece</span></span><span class="td c3"><span class="tag sick"><span style="letter-spacing:0.08px">Sickness</span></span></span><span class="td c4"><span style="letter-spacing:0.01px">18/11/2025 4:00am</span></span><span class="td c5"><span style="letter-spacing:-0.06px">19/11/2025 3:59am</span></span><span class="td c6"><span style="letter-spacing:-2.44px">1</span></span></div>
<div class="tr alt"><span class="td c1"><span style="letter-spacing:0.69px">34</span></span><span class="td c2"><span style="letter-spacing:0.03px">Happy Gilmore</span></span><span class="td c3"><span class="tag sick"><span style="letter-spacing:0.08px">Sickness</span></span></span><span class="td c4"><span style="letter-spacing:0.13px">16/10/2025 4:00am</span></span><span class="td c5"><span style="letter-spacing:0.01px">17/10/2025 3:59am</span></span><span class="td c6"><span style="letter-spacing:-2.44px">1</span></span></div>
<div class="tr"><span class="td c1"><span style="letter-spacing:0.49px">33</span></span><span class="td c2"><span style="letter-spacing:0.09px">Kenneth Mackenzie</span></span><span class="td c3"><span class="tag other"><span style="letter-spacing:0.07px">Other</span></span></span><span class="td c4"><span style="letter-spacing:0.50px">24/09/2024 4:00am</span></span><span class="td c5"><span style="letter-spacing:0.32px">24/09/2024 1:00pm</span></span><span class="td c6"><span style="letter-spacing:0.67px">0</span></span></div>
<div class="tr alt"><span class="td c1"><span style="letter-spacing:0.44px">32</span></span><span class="td c2"><span style="letter-spacing:-0.29px">Dzhamal YUZEKCHIEV</span></span><span class="td c3"><span class="tag other"><span style="letter-spacing:0.07px">Other</span></span></span><span class="td c4"><span style="letter-spacing:0.49px">23/09/2024 4:00am</span></span><span class="td c5"><span style="letter-spacing:0.46px">23/09/2024 6:59pm</span></span><span class="td c6"><span style="letter-spacing:-2.44px">1</span></span></div>
<div class="tr"><span class="td c1"><span style="letter-spacing:-0.97px">31</span></span><span class="td c2"><span style="letter-spacing:0.13px">Keith Whitfield</span></span><span class="td c3"><span class="tag other"><span style="letter-spacing:0.07px">Other</span></span></span><span class="td c4"><span style="letter-spacing:0.20px">26/11/2024 4:00am</span></span><span class="td c5"><span style="letter-spacing:0.12px">27/11/2024 6:59pm</span></span><span class="td c6"><span style="letter-spacing:0.38px">2</span></span></div>
<div class="tr alt"><span class="td c1"><span style="letter-spacing:0.59px">30</span></span><span class="td c2"><span style="letter-spacing:0.03px">Daniel Brock</span></span><span class="td c3"><span class="tag other"><span style="letter-spacing:0.07px">Other</span></span></span><span class="td c4"><span style="letter-spacing:0.02px">12/11/2024 4:00am</span></span><span class="td c5"><span style="letter-spacing:-0.01px">21/11/2024 6:59pm</span></span><span class="td c6"><span style="letter-spacing:0.50px">8</span></span></div>
<div class="tr"><span class="td c1"><span style="letter-spacing:0.45px">29</span></span><span class="td c2"><span style="letter-spacing:0.27px">John Hoof</span></span><span class="td c3"><span class="tag other"><span style="letter-spacing:0.07px">Other</span></span></span><span class="td c4"><span style="letter-spacing:0.35px">04/10/2024 4:00am</span></span><span class="td c5"><span style="letter-spacing:0.32px">04/10/2024 6:59pm</span></span><span class="td c6"><span style="letter-spacing:-2.44px">1</span></span></div>
<div class="tr alt"><span class="td c1"><span style="letter-spacing:0.45px">28</span></span><span class="td c2"><span style="letter-spacing:0.13px">Keith Whitfield</span></span><span class="td c3"><span class="tag other"><span style="letter-spacing:0.07px">Other</span></span></span><span class="td c4"><span style="letter-spacing:0.27px">07/10/2024 4:00am</span></span><span class="td c5"><span style="letter-spacing:0.24px">07/10/2024 6:59pm</span></span><span class="td c6"><span style="letter-spacing:-2.44px">1</span></span></div>
<div class="tr"><span class="td c1"><span style="letter-spacing:0.08px">27</span></span><span class="td c2"><span style="letter-spacing:0.15px">Patrick McDonagh</span></span><span class="td c3"><span class="tag other"><span style="letter-spacing:0.07px">Other</span></span></span><span class="td c4"><span style="letter-spacing:0.33px">16/09/2024 4:00am</span></span><span class="td c5"><span style="letter-spacing:0.29px">16/09/2024 6:59pm</span></span><span class="td c6"><span style="letter-spacing:-2.44px">1</span></span></div>
<div class="tr alt"><span class="td c1"><span style="letter-spacing:0.45px">26</span></span><span class="td c2"><span style="letter-spacing:0.18px">Matthew Worton</span></span><span class="td c3"><span class="tag other"><span style="letter-spacing:0.07px">Other</span></span></span><span class="td c4"><span style="letter-spacing:0.32px">18/09/2024 4:00am</span></span><span class="td c5"><span style="letter-spacing:0.29px">18/09/2024 6:59pm</span></span><span class="td c6"><span style="letter-spacing:-2.44px">1</span></span></div>
<div class="tr"><span class="td c1"><span style="letter-spacing:0.53px">24</span></span><span class="td c2"><span style="letter-spacing:-0.29px">Dzhamal YUZEKCHIEV</span></span><span class="td c3"><span class="tag other"><span style="letter-spacing:0.07px">Other</span></span></span><span class="td c4"><span style="letter-spacing:0.33px">16/09/2024 4:00am</span></span><span class="td c5"><span style="letter-spacing:0.29px">16/09/2024 6:59pm</span></span><span class="td c6"><span style="letter-spacing:-2.44px">1</span></span></div>
<div class="tr alt"><span class="td c1"><span style="letter-spacing:0.44px">23</span></span><span class="td c2"><span style="letter-spacing:0.08px">Timothy Fahey</span></span><span class="td c3"><span class="tag other"><span style="letter-spacing:0.07px">Other</span></span></span><span class="td c4"><span style="letter-spacing:0.32px">12/09/2024 4:00am</span></span><span class="td c5"><span style="letter-spacing:0.28px">12/09/2024 6:59pm</span></span><span class="td c6"><span style="letter-spacing:-2.44px">1</span></span></div>
<div class="tr"><span class="td c1"><span style="letter-spacing:0.38px">22</span></span><span class="td c2"><span style="letter-spacing:-0.29px">Dzhamal YUZEKCHIEV</span></span><span class="td c3"><span class="tag other"><span style="letter-spacing:0.07px">Other</span></span></span><span class="td c4"><span style="letter-spacing:0.51px">09/09/2024 4:00am</span></span><span class="td c5"><span style="letter-spacing:0.47px">09/09/2024 6:59pm</span></span><span class="td c6"><span style="letter-spacing:-2.44px">1</span></span></div>
<div class="tr alt"><span class="td c1"><span style="letter-spacing:-1.02px">21</span></span><span class="td c2"><span style="letter-spacing:0.23px">Jeffrey Burlison</span></span><span class="td c3"><span class="tag sick"><span style="letter-spacing:0.08px">Sickness</span></span></span><span class="td c4"><span style="letter-spacing:0.53px">04/09/2024 4:00am</span></span><span class="td c5"><span style="letter-spacing:0.29px">13/09/2024 6:59pm</span></span><span class="td c6"><span style="letter-spacing:0.53px">9</span></span></div>
<div class="tr"><span class="td c1"><span style="letter-spacing:0.53px">20</span></span><span class="td c2"><span style="letter-spacing:0.23px">Jeffrey Burlison</span></span><span class="td c3"><span class="tag sick"><span style="letter-spacing:0.08px">Sickness</span></span></span><span class="td c4"><span style="letter-spacing:0.51px">03/09/2024 4:00am</span></span><span class="td c5"><span style="letter-spacing:0.47px">03/09/2024 6:59pm</span></span><span class="td c6"><span style="letter-spacing:-2.44px">1</span></span></div>
<div class="tr alt"><span class="td c1"><span style="letter-spacing:-0.95px">19</span></span><span class="td c2"><span style="letter-spacing:0.23px">Jeffrey Burlison</span></span><span class="td c3"><span class="tag sick"><span style="letter-spacing:0.08px">Sickness</span></span></span><span class="td c4"><span style="letter-spacing:0.50px">02/09/2024 4:00am</span></span><span class="td c5"><span style="letter-spacing:0.47px">02/09/2024 6:59pm</span></span><span class="td c6"><span style="letter-spacing:-2.44px">1</span></span></div>
</div>
<div class="sbar"><div class="thumb"></div></div>
</section>
<svg class="cursor" width="24" height="28" viewBox="0 0 24 28"><ellipse cx="14" cy="26.200" rx="2.800" ry=".7" fill="#3b4a63"/><path d="M8.500 16.500V4.400a1.500 1.500 0 0 1 3 0V9a1.500 1.300 0 0 1 3 0v.6a1.500 1.300 0 0 1 3 0v.9a1.350 1.300 0 0 1 2.700 0V19c0 2.300-.7 4-1.700 5.700H9.400L3.500 17c-.7-.9-.5-2 .3-2.600.8-.6 1.900-.5 2.700.1z" fill="#fff" stroke="#231f20" stroke-width="1.100" stroke-linejoin="round"/><path d="M11.500 8.500v4.200M14.500 9.500v3.200M17.500 10v3" stroke="#231f20" stroke-width="1.100" stroke-linecap="round" fill="none"/></svg>
<div class="focusring"></div>
<button class="chatfab"><svg class="ic " width="24" height="24" viewBox="0 0 24 24" fill="none" stroke="currentColor" stroke-width="2" stroke-linecap="round" stroke-linejoin="round" style=""><path d="M7.900 20A9 9 0 1 0 4 16.100L2 22Z"/></svg></button>
</main>
<div class="corner cl"></div><div class="corner cr"></div>
</body>
</html>
